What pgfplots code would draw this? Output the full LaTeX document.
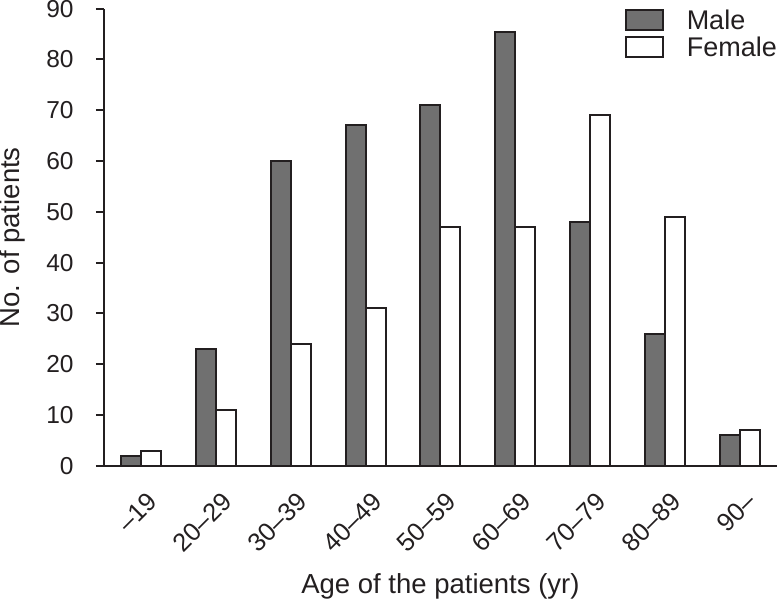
\documentclass[border=0pt]{standalone}
\usepackage{fontspec}
\setmainfont{Liberation Sans}
\usepackage{pgfplots}
\pgfplotsset{compat=1.18}
\definecolor{ink}{RGB}{35,31,32}
\definecolor{malegray}{RGB}{112,112,112}
\begin{document}
\begin{tikzpicture}
\begin{axis}[
    width=673bp, height=457bp, scale only axis,
    xmin=0, xmax=9, ymin=0, ymax=90,
    axis x line*=bottom, axis y line*=left,
    axis line style={-, line width=2bp, ink},
    ybar=0pt, bar width=20bp,
    xtick={0.5,1.5,...,8.5},
    xticklabels={–19,20–29,30–39,40–49,50–59,60–69,70–79,80–89,90–},
    xtick style={draw=none},
    minor xtick={0,1,...,9},
    minor tick length=10bp,
    ytick={0,10,...,90},
    major tick length=8bp,
    tick align=outside,
    tick style={line width=2bp, ink},
    /pgf/number format/assume math mode=true,
    ticklabel style={font=\fontsize{24.5bp}{28bp}\selectfont, text=ink},
    xticklabel style={font=\fontsize{25.5bp}{29bp}\selectfont, rotate=45, anchor=north east, inner sep=0pt, xshift=-8.5bp, yshift=-15.5bp},
    yticklabel style={anchor=east, inner sep=0pt, xshift=-22bp},
    label style={font=\fontsize{27.5bp}{32bp}\selectfont, text=ink},
    xlabel={Age of the patients (yr)},
    ylabel={No. of patients},
    xlabel style={at={(axis description cs:0.5,0)}, anchor=base, inner sep=0pt, yshift=-128bp},
    ylabel style={at={(axis description cs:0,0.5)}, anchor=north, inner sep=0pt, yshift=104bp},
    legend style={draw=none, fill=none, at={(1,1)}, anchor=north east,
        inner sep=0pt, row sep=5bp,
        font=\fontsize{27bp}{32bp}\selectfont, text=ink,
        nodes={inner sep=0pt, text depth=0pt},
        /tikz/every odd column/.append style={column sep=23bp}},
    legend image code/.code={\draw[#1, line width=2bp] (0bp,-10bp) rectangle (37bp,10bp);},
    legend cell align=left,
]
\addplot[draw=ink, line width=2bp, fill=malegray] coordinates {
    (0.5,2) (1.5,23) (2.5,60) (3.5,67) (4.5,71) (5.5,85.5) (6.5,48) (7.5,26) (8.5,6)
};
\addplot[draw=ink, line width=2bp, fill=white] coordinates {
    (0.5,3) (1.5,11) (2.5,24) (3.5,31) (4.5,47) (5.5,47) (6.5,69) (7.5,49) (8.5,7)
};
\legend{Male, Female}
\end{axis}
\end{tikzpicture}
\end{document}
